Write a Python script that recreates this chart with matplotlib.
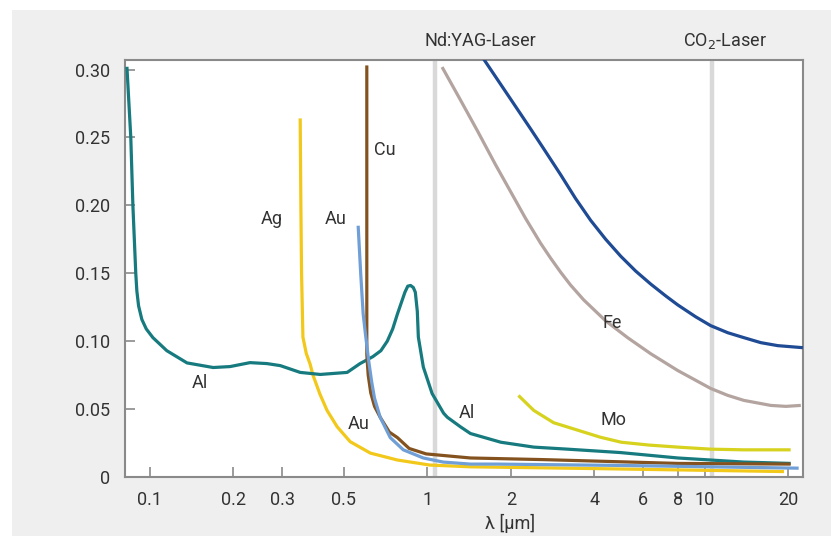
#!/usr/bin/env python3
import matplotlib
matplotlib.use("Agg")
import matplotlib.pyplot as plt
from matplotlib.patches import Rectangle
from matplotlib.ticker import FixedLocator, FixedFormatter, NullLocator

plt.rcParams["font.family"] = ["Roboto", "DejaVu Sans"]

# wavelength in um, absorption
al_wl = [0.0826, 0.0853, 0.0868, 0.0889, 0.0897, 0.091, 0.0935, 0.097, 0.1025, 0.115,
         0.136, 0.169, 0.1945, 0.2295, 0.264, 0.295, 0.348, 0.411, 0.514, 0.572,
         0.636, 0.68, 0.717, 0.75, 0.78, 0.83, 0.85, 0.87, 0.89, 0.905, 0.92, 0.928,
         0.967, 1.04, 1.144, 1.18, 1.315, 1.43, 1.84, 2.42, 3.2, 4.96, 8.0, 13.8, 20.4]
al_abs = [0.302, 0.25, 0.20, 0.15, 0.137, 0.126, 0.116, 0.109, 0.1026, 0.093,
          0.084, 0.0806, 0.0813, 0.0842, 0.0835, 0.082, 0.077, 0.0755, 0.077, 0.0835,
          0.0886, 0.093, 0.100, 0.109, 0.120, 0.136, 0.1405, 0.141, 0.1395, 0.136, 0.122, 0.103,
          0.081, 0.0615, 0.047, 0.044, 0.037, 0.032, 0.0256, 0.022, 0.0205, 0.018, 0.014,
          0.011, 0.010]

ag_wl = [0.348, 0.350, 0.352, 0.356, 0.366, 0.378, 0.387, 0.41, 0.435, 0.473, 0.527,
         0.623, 0.78, 1.02, 1.43, 4.0, 19.3]
ag_abs = [0.264, 0.20, 0.15, 0.103, 0.091, 0.083, 0.075, 0.061, 0.049, 0.037, 0.026,
          0.0176, 0.0125, 0.0088, 0.0075, 0.0062, 0.004]

au_wl = [0.563, 0.575, 0.587, 0.60, 0.615, 0.63, 0.645, 0.676, 0.735, 0.819, 0.967,
         1.14, 1.43, 1.79, 5.0, 21.8]
au_abs = [0.185, 0.15, 0.12, 0.103, 0.085, 0.07, 0.058, 0.044, 0.029, 0.020, 0.014,
          0.011, 0.0095, 0.0095, 0.0085, 0.0065]

cu_wl = [0.605, 0.605, 0.612, 0.625, 0.645, 0.676, 0.73, 0.78, 0.86, 0.99, 1.43,
         2.62, 8.0, 20.4]
cu_abs = [0.303, 0.09, 0.075, 0.062, 0.052, 0.044, 0.033, 0.029, 0.021, 0.017, 0.014,
          0.0128, 0.010, 0.0095]

fe_wl = [1.13, 1.315, 1.515, 1.76, 1.993, 2.258, 2.558, 2.78, 3.02, 3.28, 3.66, 4.39,
         5.27, 6.38, 7.99, 10.5, 12.1, 13.83, 17.3, 19.6, 22.2]
fe_abs = [0.3018, 0.2777, 0.2549, 0.230, 0.2103, 0.1905, 0.1722, 0.1612, 0.1509, 0.1414,
          0.1304, 0.115, 0.1026, 0.0908, 0.0784, 0.0652, 0.0601, 0.0564, 0.0527, 0.052,
          0.0527]

steel_wl = [1.58, 1.993, 2.354, 2.624, 3.02, 3.42, 3.877, 4.39, 4.975, 5.636, 6.38,
            7.233, 7.99, 9.28, 10.51, 12.11, 13.83, 15.93, 18.34, 22.58]
steel_abs = [0.309, 0.2784, 0.2564, 0.2418, 0.2227, 0.2051, 0.189, 0.1751, 0.1626,
             0.1516, 0.1421, 0.1333, 0.1267, 0.1179, 0.1114, 0.1062, 0.1026, 0.0989,
             0.0967, 0.0952]

mo_wl = [2.13, 2.42, 2.85, 3.48, 4.2, 5.0, 6.3, 8.0, 10.5, 13.8, 20.4]
mo_abs = [0.060, 0.049, 0.040, 0.0345, 0.0293, 0.0256, 0.0235, 0.022, 0.0205, 0.020, 0.020]

laser_wl = [1.064, 10.6]
laser_names = ["Nd:YAG-Laser", "CO$_2$-Laser"]
laser_label_wl = [1.553, 11.8]

x_ticks = [0.1, 0.2, 0.3, 0.5, 1, 2, 4, 6, 8, 10, 20]
x_labels = ["0.1", "0.2", "0.3", "0.5", "1", "2", "4", "6", "8", "10", "20"]
y_ticks = [0, 0.05, 0.10, 0.15, 0.20, 0.25, 0.30]
y_labels = ["0", "0.05", "0.10", "0.15", "0.20", "0.25", "0.30"]

text_col = "#333333"
spine_col = "#8a8a8a"

fig = plt.figure(figsize=(8.31, 5.36), dpi=100)
fig.patch.set_facecolor("white")
fig.patches.append(Rectangle((12 / 831, 0), 1, 1 - 10 / 536, transform=fig.transFigure,
                             facecolor="#efefef", edgecolor="none", zorder=-5))

ax = fig.add_axes([125 / 831, 1 - 477 / 536, (803 - 125) / 831, (477 - 60) / 536])
ax.set_zorder(2)
ax.set_facecolor("white")
ax.set_xscale("log")
ax.set_xlim(0.0813, 22.6)
ax.set_ylim(0, 0.307)

for wl in laser_wl:
    ax.axvline(wl, color="#d9d9d9", lw=3.2, zorder=1)

line_kw = dict(lw=2.3, solid_joinstyle="round", solid_capstyle="butt")
ax.plot(steel_wl, steel_abs, color="#1f4a94", zorder=3, **line_kw)
ax.plot(fe_wl, fe_abs, color="#b3a4a0", zorder=3, **line_kw)
ax.plot(mo_wl, mo_abs, color="#d6d21e", zorder=3, **line_kw)
ax.plot(ag_wl, ag_abs, color="#f2c81a", zorder=3, **line_kw)
ax.plot(al_wl, al_abs, color="#167a7e", zorder=4, **line_kw)
ax.plot(cu_wl, cu_abs, color="#84521f", zorder=4, **line_kw)
ax.plot(au_wl, au_abs, color="#6f9fd6", zorder=5, **line_kw)

labels = [
    (0.1515, 0.069, "Al"), (1.39, 0.047, "Al"), (0.2757, 0.190, "Ag"),
    (0.466, 0.190, "Au"), (0.565, 0.039, "Au"), (0.705, 0.241, "Cu"),
    (4.65, 0.1135, "Fe"), (4.7, 0.042, "Mo"),
]
for x, y, s in labels:
    ax.text(x, y, s, fontsize=13, color=text_col, ha="center", va="center", zorder=6)

for wl, name in zip(laser_label_wl, laser_names):
    ax.text(wl, 1.045, name, transform=ax.get_xaxis_transform(), fontsize=13,
            color=text_col, ha="center", va="center")

ax.xaxis.set_major_locator(FixedLocator(x_ticks))
ax.xaxis.set_major_formatter(FixedFormatter(x_labels))
ax.xaxis.set_minor_locator(NullLocator())
ax.yaxis.set_major_locator(FixedLocator(y_ticks))
ax.yaxis.set_major_formatter(FixedFormatter(y_labels))

ax.tick_params(direction="in", length=7, width=1.2, color=spine_col,
               labelsize=13, labelcolor=text_col)
ax.tick_params(axis="y", pad=11)
ax.tick_params(axis="x", pad=10)
for sp in ax.spines.values():
    sp.set_color(spine_col)
    sp.set_linewidth(1.5)

fig.text(510 / 831, 1 - 523 / 536, "λ [μm]", fontsize=13, color=text_col,
         ha="center", va="center")

fig.savefig("out.png", dpi=100)
